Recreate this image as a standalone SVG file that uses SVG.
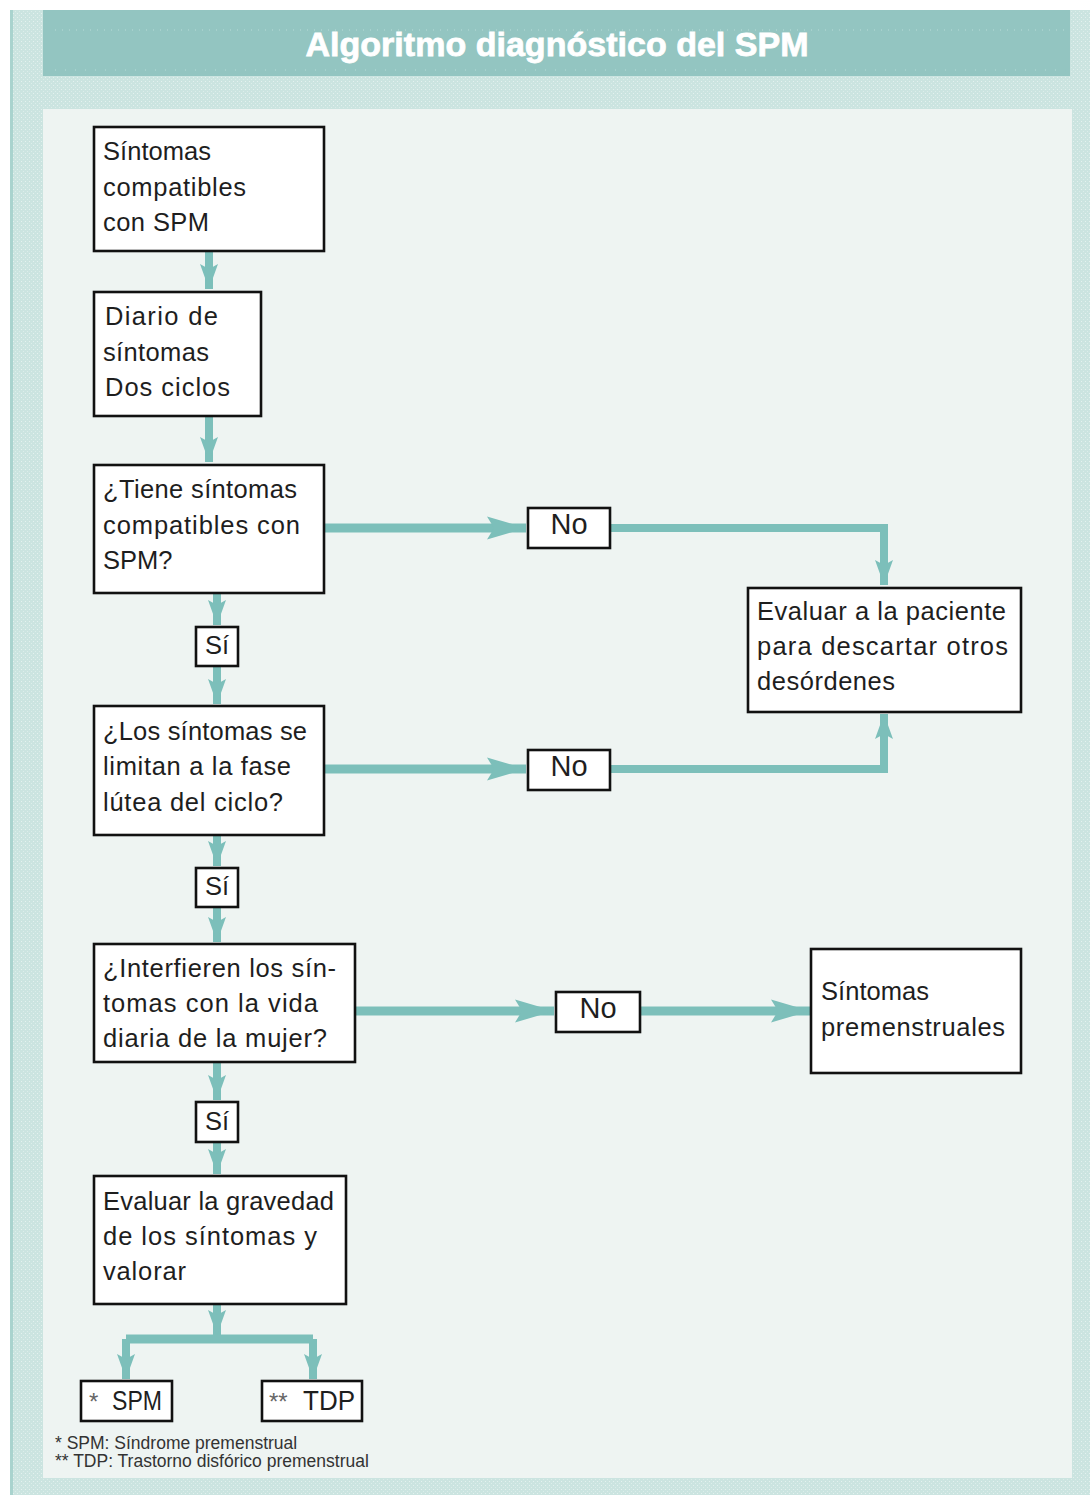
<svg xmlns="http://www.w3.org/2000/svg" width="1090" height="1495" viewBox="0 0 1090 1495">
<style>
.box{fill:#ffffff;stroke:#111;stroke-width:2.6}
.t{font-family:"Liberation Sans",Arial,sans-serif;font-size:25.5px;fill:#1e1e1e}
.lbl{font-family:"Liberation Sans",Arial,sans-serif;font-size:25.5px;fill:#1e1e1e;text-anchor:middle}
.no{font-family:"Liberation Sans",Arial,sans-serif;font-size:29px;fill:#1e1e1e;text-anchor:middle}
.v{fill:none;stroke:#7cbfba;stroke-width:8;marker-end:url(#ah)}
.h{fill:none;stroke:#7cbfba;stroke-width:9;marker-end:url(#ahb)}
.bar{fill:none;stroke:#7cbfba;stroke-width:9}
.fn{font-family:"Liberation Sans",Arial,sans-serif;font-size:17.5px;fill:#333}
</style>
<defs>
<pattern id="tex" width="4" height="4" patternUnits="userSpaceOnUse">
<rect width="4" height="4" fill="#cbe4e0"/>
<rect x="1" y="1" width="1" height="1" fill="#e4f1ef"/>
<rect x="3" y="3" width="1" height="1" fill="#dcedea"/>
</pattern>
<marker id="ah" markerUnits="userSpaceOnUse" markerWidth="26" markerHeight="18" refX="25" refY="9" orient="auto" viewBox="0 0 26 18">
<path d="M0,0 L25,9 L0,18 L5,9 Z" fill="#7cbfba"/>
</marker>
<marker id="ahb" markerUnits="userSpaceOnUse" markerWidth="40" markerHeight="24" refX="39" refY="12" orient="auto" viewBox="0 0 40 24">
<path d="M0,0.5 L39,12 L0,23.5 L7,12 Z" fill="#7cbfba"/>
</marker>
</defs>
<rect x="0" y="0" width="1090" height="1495" fill="#ffffff"/>
<rect x="10" y="10" width="1080" height="1485" fill="url(#tex)"/>
<rect x="10" y="10" width="3" height="1485" fill="#a9d3ce"/>
<g id="header">
<rect x="43" y="10" width="1027" height="66" fill="#93c5c1"/>
<line x1="55" y1="30" x2="1065" y2="30" stroke="#b9dcd8" stroke-width="1" stroke-dasharray="1,6"/>
<line x1="55" y1="70" x2="1065" y2="70" stroke="#b9dcd8" stroke-width="1" stroke-dasharray="1,9"/>
<text x="557" y="56" font-family="Liberation Sans,Arial,sans-serif" font-size="34" font-weight="bold" fill="#ffffff" stroke="#ffffff" stroke-width="0.8" text-anchor="middle" textLength="503" lengthAdjust="spacing">Algoritmo diagnóstico del SPM</text>
</g>
<rect x="43" y="109" width="1029" height="1369" fill="#eef4f2"/>
<g id="connectors">
<path class="v" d="M209,252 V289"/>
<path class="v" d="M209,417 V462"/>
<path class="v" d="M217,594 V625"/>
<path class="v" d="M217,667 V704"/>
<path class="v" d="M217,836 V866"/>
<path class="v" d="M217,908 V942"/>
<path class="v" d="M217,1063 V1100"/>
<path class="v" d="M217,1143 V1174"/>
<path class="v" d="M217,1305 V1335"/>
<path class="bar" d="M126,1339 H313"/>
<path class="v" d="M126,1339 V1379"/>
<path class="v" d="M313,1339 V1379"/>
<path class="h" d="M325,528 H526"/>
<path class="v" d="M611,528 H884 V585"/>
<path class="h" d="M325,769 H526"/>
<path class="v" d="M611,769 H884 V714"/>
<path class="h" d="M356,1011 H554"/>
<path class="h" d="M641,1011 H810"/>
</g>
<g id="n1"><rect class="box" x="94" y="127" width="230" height="124"/>
<text class="t" x="103" y="160" textLength="108" lengthAdjust="spacing">Síntomas</text>
<text class="t" x="103" y="195.5" textLength="143" lengthAdjust="spacing">compatibles</text>
<text class="t" x="103" y="231" textLength="106" lengthAdjust="spacing">con SPM</text></g>
<g id="n2"><rect class="box" x="94" y="292" width="167" height="124"/>
<text class="t" x="105" y="325" textLength="113" lengthAdjust="spacing">Diario de</text>
<text class="t" x="103" y="360.5" textLength="106" lengthAdjust="spacing">síntomas</text>
<text class="t" x="105" y="396" textLength="125" lengthAdjust="spacing">Dos ciclos</text></g>
<g id="n3"><rect class="box" x="94" y="465" width="230" height="128"/>
<text class="t" x="103" y="498" textLength="194" lengthAdjust="spacing">¿Tiene síntomas</text>
<text class="t" x="103" y="533.5" textLength="197" lengthAdjust="spacing">compatibles con</text>
<text class="t" x="103" y="569">SPM?</text></g>
<g id="si1"><rect class="box" x="196" y="627" width="42" height="39"/><text class="lbl" x="217" y="654">Sí</text></g>
<g id="n4"><rect class="box" x="94" y="706" width="230" height="129"/>
<text class="t" x="103" y="739.5" textLength="204" lengthAdjust="spacing">¿Los síntomas se</text>
<text class="t" x="103" y="775" textLength="188" lengthAdjust="spacing">limitan a la fase</text>
<text class="t" x="103" y="810.5" textLength="180" lengthAdjust="spacing">lútea del ciclo?</text></g>
<g id="si2"><rect class="box" x="196" y="868" width="42" height="39"/><text class="lbl" x="217" y="895">Sí</text></g>
<g id="n5"><rect class="box" x="94" y="944" width="261" height="118"/>
<text class="t" x="103" y="977" textLength="233" lengthAdjust="spacing">¿Interfieren los sín-</text>
<text class="t" x="103" y="1012" textLength="215" lengthAdjust="spacing">tomas con la vida</text>
<text class="t" x="103" y="1047" textLength="224" lengthAdjust="spacing">diaria de la mujer?</text></g>
<g id="si3"><rect class="box" x="196" y="1102" width="42" height="40"/><text class="lbl" x="217" y="1130">Sí</text></g>
<g id="n6"><rect class="box" x="94" y="1176" width="252" height="128"/>
<text class="t" x="103" y="1210" textLength="231" lengthAdjust="spacing">Evaluar la gravedad</text>
<text class="t" x="103" y="1245" textLength="214" lengthAdjust="spacing">de los síntomas y</text>
<text class="t" x="103" y="1280" textLength="83" lengthAdjust="spacing">valorar</text></g>
<g id="spm"><rect class="box" x="81" y="1381" width="91" height="40"/>
<text x="89" y="1410" font-family="Liberation Sans,Arial,sans-serif" font-size="27" fill="#1e1e1e"><tspan font-size="24" fill="#666">*</tspan><tspan x="112" textLength="50" lengthAdjust="spacingAndGlyphs">SPM</tspan></text></g>
<g id="tdp"><rect class="box" x="262" y="1381" width="100" height="40"/>
<text x="269" y="1410" font-family="Liberation Sans,Arial,sans-serif" font-size="27" fill="#1e1e1e"><tspan font-size="24" fill="#666">**</tspan><tspan x="303" textLength="52" lengthAdjust="spacingAndGlyphs">TDP</tspan></text></g>
<g id="no1"><rect class="box" x="528" y="508" width="82" height="40"/><text class="no" x="569" y="534">No</text></g>
<g id="no2"><rect class="box" x="528" y="750" width="82" height="40"/><text class="no" x="569" y="776">No</text></g>
<g id="no3"><rect class="box" x="556" y="992" width="84" height="40"/><text class="no" x="598" y="1018">No</text></g>
<g id="eval"><rect class="box" x="748" y="588" width="273" height="124"/>
<text class="t" x="757" y="620" textLength="249" lengthAdjust="spacing">Evaluar a la paciente</text>
<text class="t" x="757" y="655" textLength="251" lengthAdjust="spacing">para descartar otros</text>
<text class="t" x="757" y="690" textLength="138" lengthAdjust="spacing">desórdenes</text></g>
<g id="prem"><rect class="box" x="811" y="949" width="210" height="124"/>
<text class="t" x="821" y="1000" textLength="108" lengthAdjust="spacing">Síntomas</text>
<text class="t" x="821" y="1036" textLength="184" lengthAdjust="spacing">premenstruales</text></g>
<g id="footnote">
<text class="fn" x="55" y="1449">* SPM: Síndrome premenstrual</text>
<text class="fn" x="55" y="1467">** TDP: Trastorno disfórico premenstrual</text>
</g>
</svg>
